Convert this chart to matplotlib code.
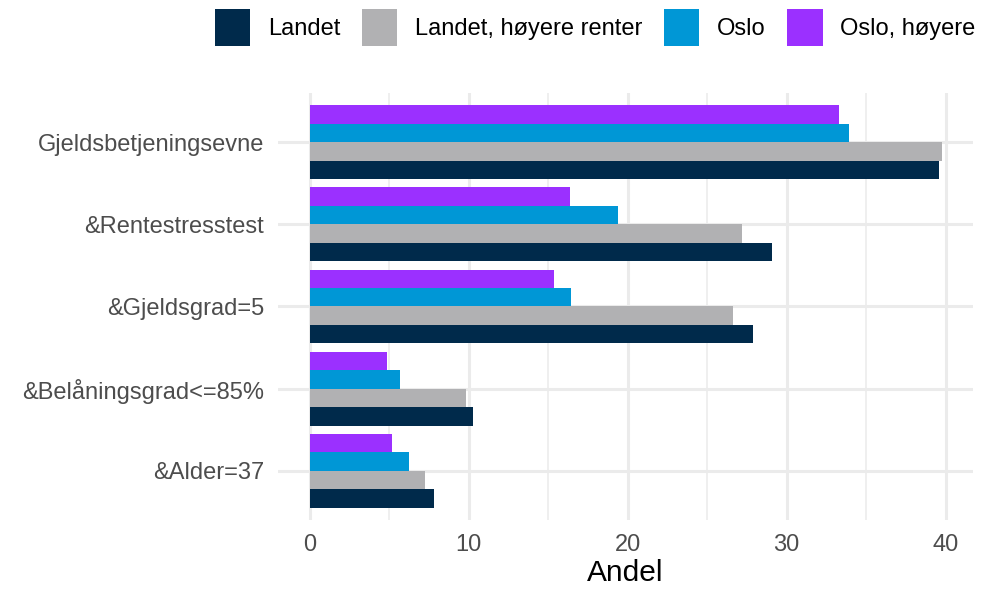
import matplotlib
matplotlib.use("Agg")
import matplotlib.pyplot as plt
import numpy as np

# kategorier (nederst -> øverst)
categories = ["&Alder=37", "&Belåningsgrad<=85%", "&Gjeldsgrad=5", "&Rentestresstest", "Gjeldsbetjeningsevne"]

# serier
series_names = ["Landet", "Landet, høyere renter", "Oslo", "Oslo, høyere"]
landet = [7.8, 10.3, 27.9, 29.1, 39.6]
landet_hoyere = [7.25, 9.85, 26.6, 27.2, 39.75]
oslo = [6.25, 5.7, 16.45, 19.4, 33.9]
oslo_hoyere = [5.2, 4.9, 15.4, 16.4, 33.3]

colors = ["#002A4B", "#B1B1B3", "#0097D6", "#9B30FF"]

plt.rcParams["font.family"] = ["Liberation Sans", "DejaVu Sans"]

fig = plt.figure(figsize=(9.84, 5.92), dpi=100)
ax = fig.add_axes([0.2825, 0.1216, 0.7065, 0.7214])

y = np.arange(len(categories))
n = len(series_names)
bw = 0.9 / n
data = [landet, landet_hoyere, oslo, oslo_hoyere]
handles = []
for i, (vals, col, name) in enumerate(zip(data, colors, series_names)):
    off = -0.45 + bw * (i + 0.5)
    h = ax.barh(y + off, vals, height=bw, color=col, label=name, zorder=3)
    handles.append(h)

vmax = max(max(d) for d in data)
pad = 0.05 * vmax
ax.set_xlim(-pad, vmax + pad)
ax.set_ylim(-0.6, len(categories) - 0.4)

ax.set_yticks(y)
ax.set_yticklabels(categories)
ax.set_xticks([0, 10, 20, 30, 40])
ax.set_xticks([5, 15, 25, 35], minor=True)
ax.tick_params(axis="both", which="both", length=0, labelsize=17, colors="#4D4D4D")
ax.tick_params(axis="y", pad=10)
ax.tick_params(axis="x", pad=10)

ax.grid(True, which="major", axis="both", color="#EBEBEB", linewidth=2.2, zorder=0)
ax.grid(True, which="minor", axis="x", color="#EBEBEB", linewidth=1.1, zorder=0)
for s in ax.spines.values():
    s.set_visible(False)

ax.set_xlabel("Andel", fontsize=21.5, color="black", labelpad=2)

fig.legend(handles=handles, labels=series_names, loc="upper right", bbox_to_anchor=(1.006, 1.008),
           ncol=4, frameon=False, fontsize=17, handlelength=1.5, handleheight=2.0,
           handletextpad=0.76, columnspacing=0.9, borderaxespad=0.2)

fig.savefig("out.png", dpi=100)
